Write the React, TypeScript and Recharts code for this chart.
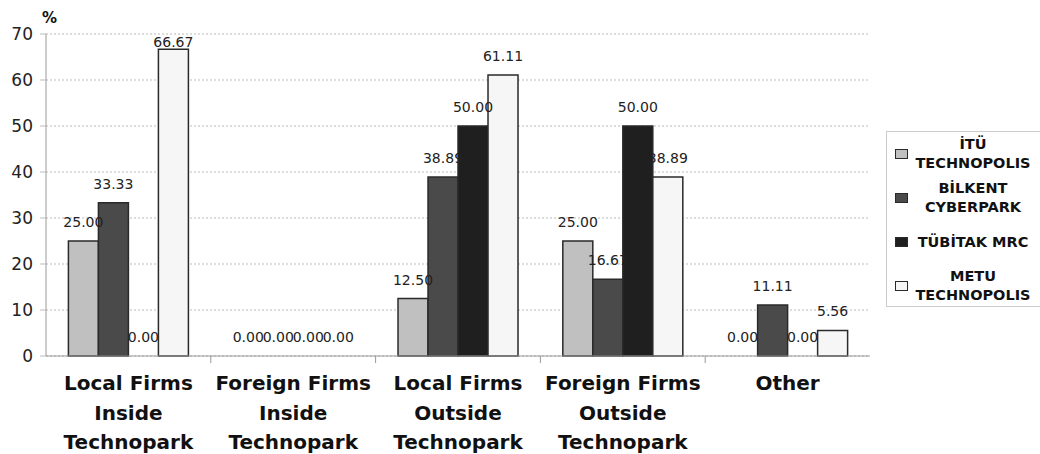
import React from 'react';
import { BarChart, Bar, XAxis, YAxis, CartesianGrid, Rectangle } from 'recharts';

const categories = [
  'Local Firms Inside Technopark',
  'Foreign Firms Inside Technopark',
  'Local Firms Outside Technopark',
  'Foreign Firms Outside Technopark',
  'Other',
];
const tickLabelLines = [
  ['Local Firms', 'Inside', 'Technopark'],
  ['Foreign Firms', 'Inside', 'Technopark'],
  ['Local Firms', 'Outside', 'Technopark'],
  ['Foreign Firms', 'Outside', 'Technopark'],
  ['Other'],
];
const ituTechnopolis = [25.0, 0.0, 12.5, 25.0, 0.0];
const bilkentCyberpark = [33.33, 0.0, 38.89, 16.67, 11.11];
const tubitakMrc = [0.0, 0.0, 50.0, 50.0, 0.0];
const metuTechnopolis = [66.67, 0.0, 61.11, 38.89, 5.56];
const yTicks = [0, 10, 20, 30, 40, 50, 60, 70];

const seriesKeys = ['itu', 'bilkent', 'tubitak', 'metu'];
const seriesValues = [ituTechnopolis, bilkentCyberpark, tubitakMrc, metuTechnopolis];
const legendLines = [
  ['İTÜ', 'TECHNOPOLIS'],
  ['BİLKENT', 'CYBERPARK'],
  ['TÜBİTAK MRC'],
  ['METU', 'TECHNOPOLIS'],
];
const seriesColors = ['#c0c0c0', '#4a4a4a', '#1f1f1f', '#f6f6f6'];

const data = categories.map((c, i) => {
  const row: any = { category: c };
  seriesKeys.forEach((k, s) => {
    row[k] = seriesValues[s][i];
  });
  return row;
});

const W = 1040;
const H = 454;
const M = { top: 34, right: 170, bottom: 0, left: 0 };
const Y_W = 46;
const X_H = 98;
const PLOT_TOP = M.top;
const PLOT_BOTTOM = H - M.bottom - X_H;
const PLOT_W = W - M.left - M.right - Y_W;
const BAND = PLOT_W / categories.length;

const LABEL_FONT = '"DejaVu Sans", sans-serif';

const isZero = (v: any) => (Array.isArray(v) ? Number(v[1]) - Number(v[0]) === 0 : Number(v) === 0);

const BarShape = (props: any) => {
  if (isZero(props.value)) return <g />;
  return <Rectangle {...props} />;
};

const renderValueLabel = (props: any) => {
  const { x, y, width, value, index } = props;
  const cx = Number(x) + Number(width) / 2;
  const top = isZero(value) ? PLOT_BOTTOM : Number(y);
  const cy = Math.max(top - 19, PLOT_TOP + 8);
  const v = Array.isArray(value) ? value[1] : value;
  return (
    <text
      key={`lbl-${index}-${x}`}
      x={cx}
      y={cy + 5}
      textAnchor="middle"
      fontFamily={LABEL_FONT}
      fontSize={14}
      fill="#222"
    >
      {Number(v).toFixed(2)}
    </text>
  );
};

const CategoryTick = (props: any) => {
  const { x, y, payload, index } = props;
  const lines = tickLabelLines[index] || [String(payload.value)];
  return (
    <g>
      {index < categories.length - 1 && (
        <line x1={x + BAND / 2} x2={x + BAND / 2} y1={y} y2={y + 7} stroke="#999" strokeWidth={1} />
      )}
      <text
        x={x}
        y={y + 34}
        textAnchor="middle"
        fontFamily={LABEL_FONT}
        fontWeight="bold"
        fontSize={20}
        fill="#111"
      >
        {lines.map((l: string, i: number) => (
          <tspan key={i} x={x} dy={i === 0 ? 0 : 29.5}>
            {l}
          </tspan>
        ))}
      </text>
    </g>
  );
};

export default function App() {
  return (
    <div style={{ position: 'absolute', left: 0, top: 0, width: W, height: H, background: '#fff' }}>
      <BarChart
        width={W}
        height={H}
        data={data}
        margin={M}
        barCategoryGap="13.6%"
        barGap={0}
      >
        <CartesianGrid vertical={false} stroke="#bbb" strokeDasharray="2 2" />
        <XAxis
          dataKey="category"
          height={X_H}
          interval={0}
          tickSize={0}
          tickMargin={0}
          tickLine={false}
          axisLine={{ stroke: '#999' }}
          tick={<CategoryTick />}
        />
        <YAxis
          width={Y_W}
          domain={[0, 70]}
          ticks={yTicks}
          interval={0}
          tickSize={6}
          tickMargin={7}
          axisLine={{ stroke: '#999' }}
          tickLine={{ stroke: '#bbb' }}
          tick={{ fontFamily: LABEL_FONT, fontSize: 17, fill: '#222' }}
        />
        {seriesKeys.map((k, s) => (
          <Bar
            key={k}
            dataKey={k}
            name={legendLines[s].join(' ')}
            fill={seriesColors[s]}
            stroke="#2a2a2a"
            strokeWidth={1.5}
            minPointSize={1}
            shape={<BarShape />}
            isAnimationActive={false}
            label={renderValueLabel}
          />
        ))}
      </BarChart>
      <div
        style={{
          position: 'absolute',
          left: 42,
          top: 9,
          fontFamily: LABEL_FONT,
          fontWeight: 'bold',
          fontSize: 15,
          color: '#111',
        }}
      >
        %
      </div>
      <div
        style={{
          position: 'absolute',
          left: 886,
          top: 131,
          width: 160,
          height: 176,
          border: '1px solid #ccc',
          background: '#fff',
          boxSizing: 'border-box',
        }}
      >
        {legendLines.map((lines, s) => (
          <div key={s} style={{ height: 44, display: 'flex', alignItems: 'center' }}>
            <div
              style={{
                width: 13,
                height: 10,
                marginLeft: 8,
                background: seriesColors[s],
                border: '1.5px solid #2a2a2a',
                boxSizing: 'border-box',
                flex: 'none',
              }}
            />
            <div
              style={{
                marginLeft: 6,
                width: 118,
                textAlign: 'center',
                fontFamily: LABEL_FONT,
                fontWeight: 'bold',
                fontSize: 14.5,
                lineHeight: '19px',
                color: '#111',
                whiteSpace: 'nowrap',
              }}
            >
              {lines.map((l, i) => (
                <div key={i}>{l}</div>
              ))}
            </div>
          </div>
        ))}
      </div>
    </div>
  );
}
